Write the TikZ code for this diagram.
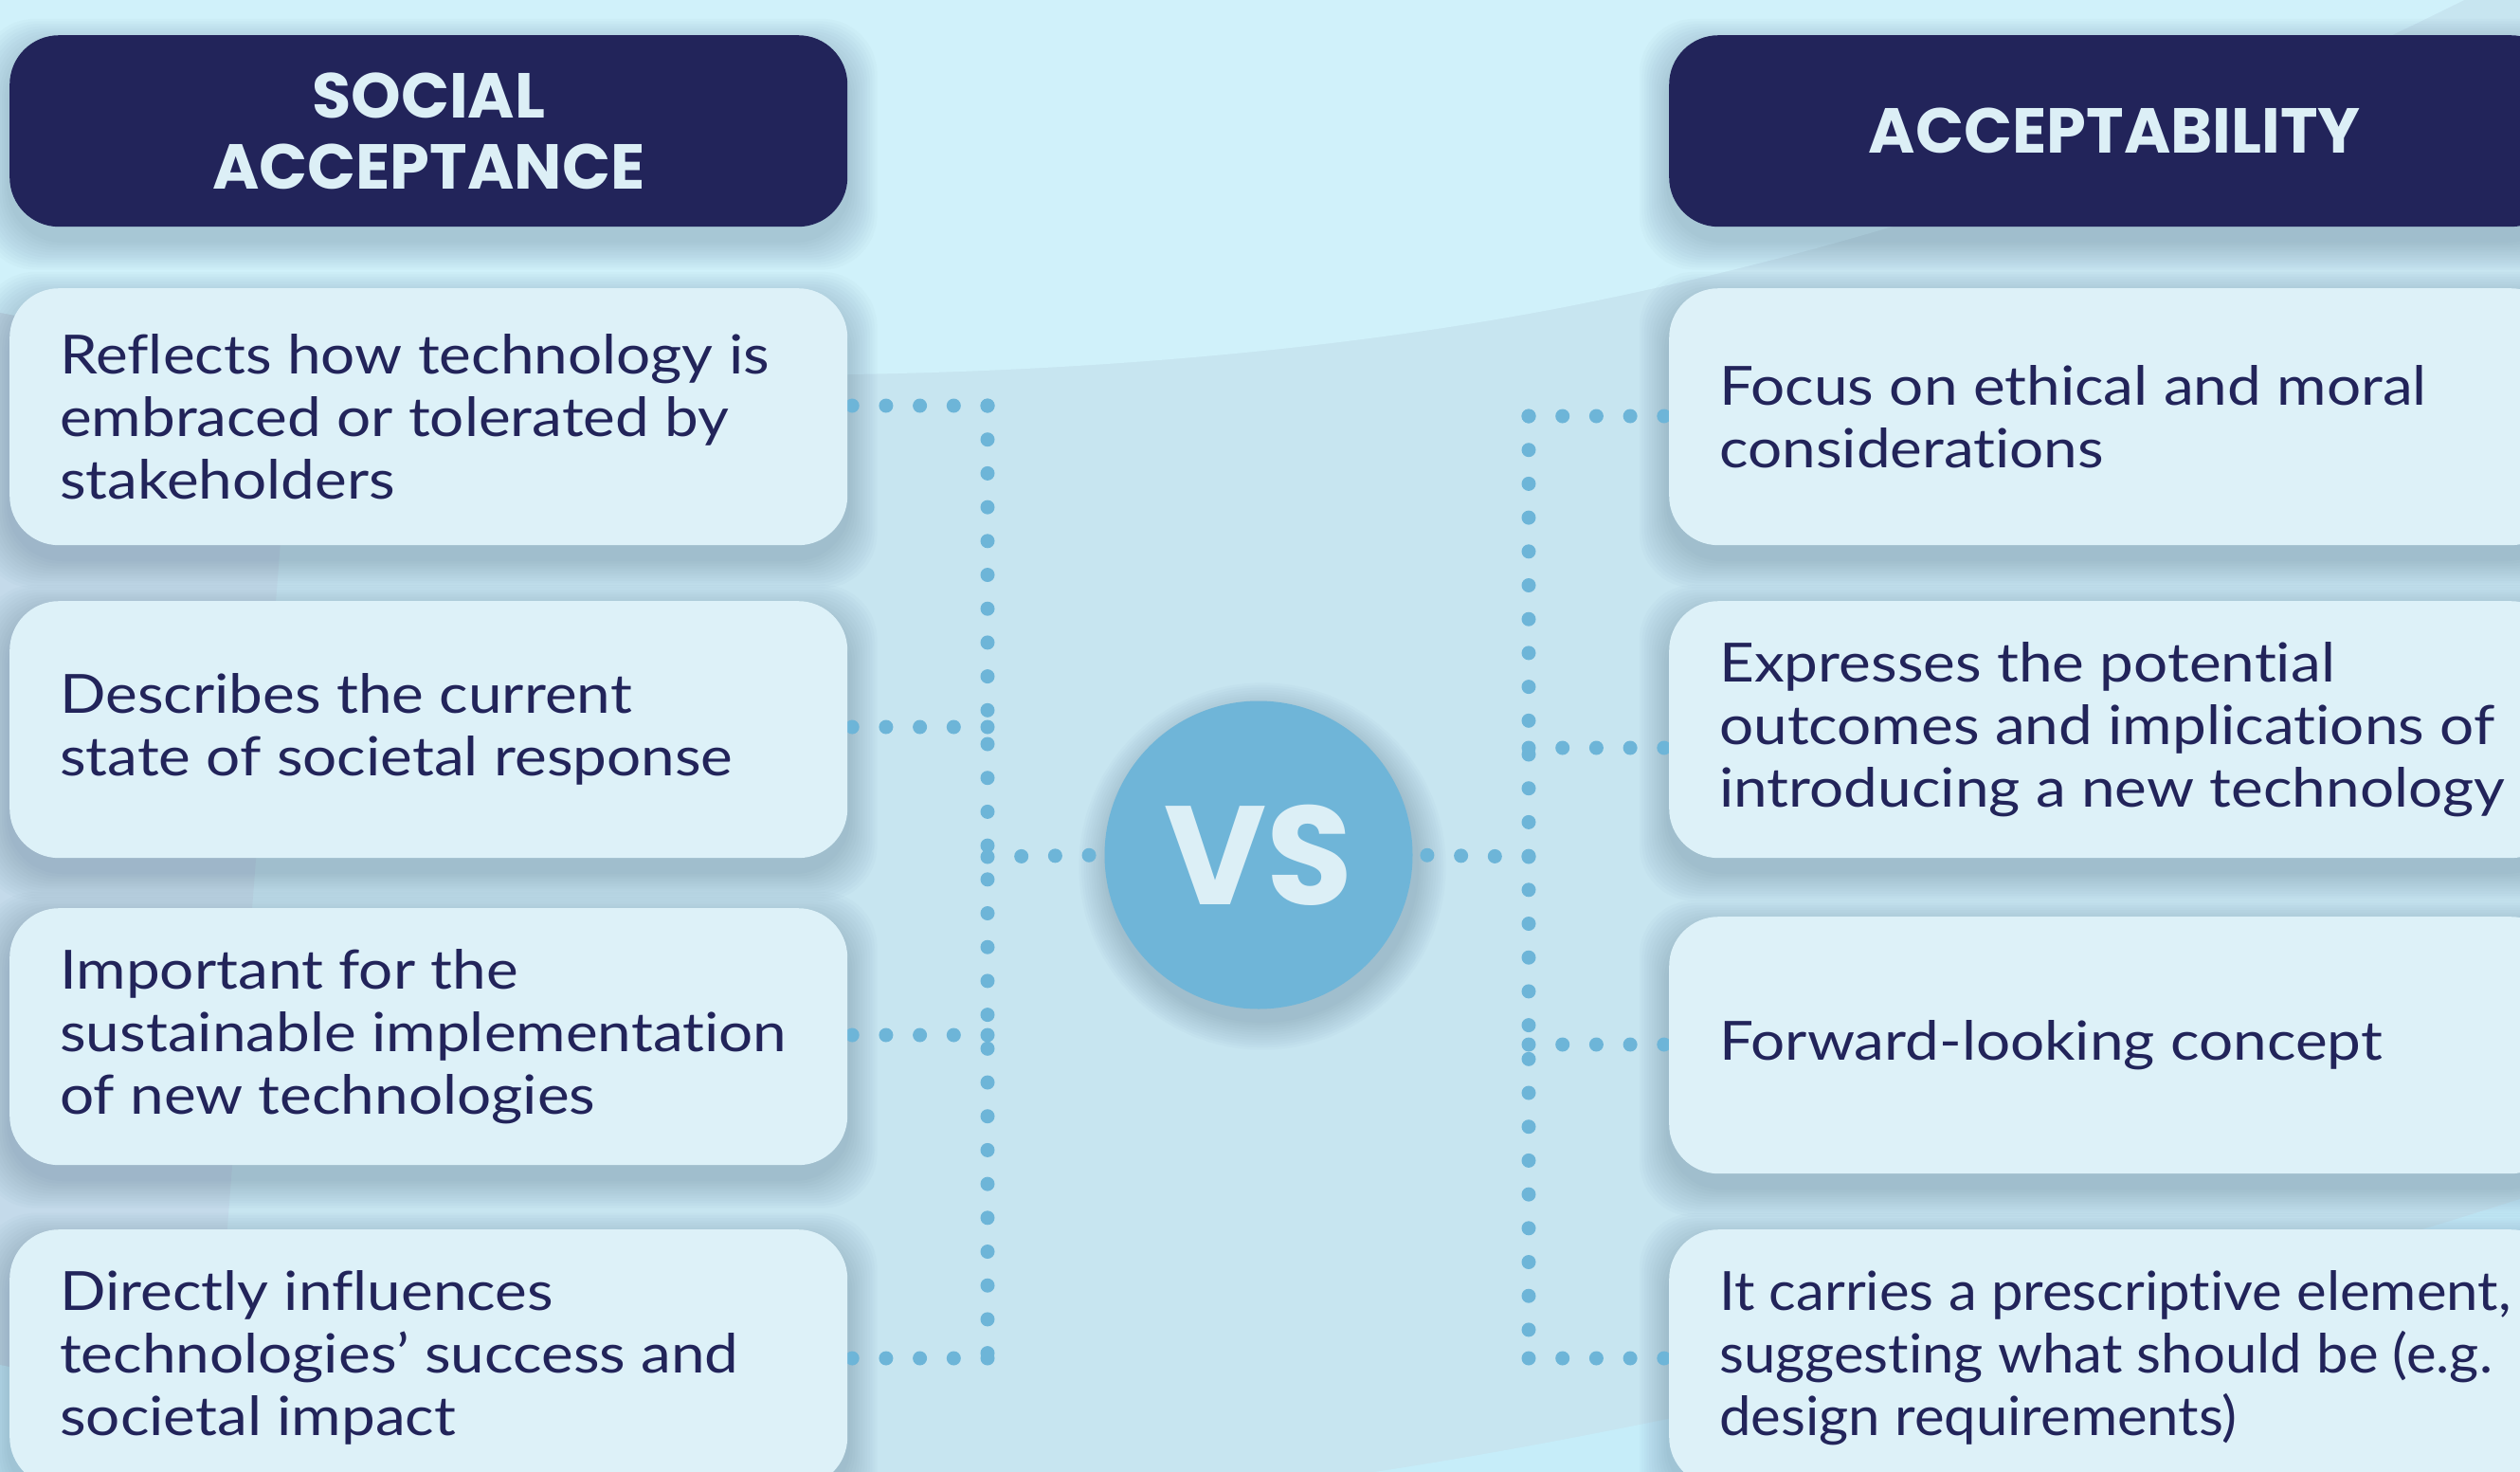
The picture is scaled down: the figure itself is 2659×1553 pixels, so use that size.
\documentclass[tikz,border=0pt]{standalone}
\usepackage{fontspec}
\setmainfont[FakeStretch=1.12, Ligatures=NoCommon]{Lato}
\newfontfamily\tightfont[FakeStretch=1.05, Ligatures=NoCommon]{Lato}
\newfontfamily\headfont{Poppins}
\definecolor{bgbase}{HTML}{C7E5F0}
\definecolor{bglight}{HTML}{D0F1FA}
\definecolor{bggrey}{HTML}{C4DAEA}
\definecolor{bgcorner}{HTML}{C6EDF9}
\definecolor{navy}{HTML}{22245A}
\definecolor{boxfill}{HTML}{DDF1F8}
\definecolor{headtext}{HTML}{DCEFF6}
\definecolor{dotblue}{HTML}{6DB5D8}
\definecolor{vsblue}{HTML}{6FB5D8}
\definecolor{shadowc}{HTML}{3F5C7A}
\pgfdeclarelayer{back}
\pgfdeclarelayer{shade}
\pgfdeclarelayer{lines}
\pgfsetlayers{back,shade,lines,main}
\newcommand\boxshadow[1]{%
  \foreach \k in {1,...,12}{%
    \fill[shadowc, opacity=0.024, rounded corners=58pt]
      ([xshift=-\k*2.6pt, yshift=\k*2.6pt-14pt]#1.north west) rectangle
      ([xshift=\k*2.6pt, yshift=-\k*2.6pt-14pt]#1.south east);}}
\newcommand\circshadow[1]{%
  \foreach \k in {1,...,12}{%
    \fill[shadowc, opacity=0.024] ([xshift=4pt, yshift=-12pt]#1.center) circle[radius=162.5pt+\k*2.6pt];}}
\tikzset{
  headbox/.style={fill=navy, rounded corners=52pt, minimum height=202pt, inner sep=0pt,
    text=headtext, align=center, font=\headfont\bfseries\fontsize{67}{75}\selectfont},
  bodybox/.style={fill=boxfill, rounded corners=52pt, minimum height=271pt, inner sep=0pt},
  bodytext/.style={text=navy, align=left, inner sep=0pt, font=\fontsize{57}{66}\selectfont},
  dotline/.style={draw=dotblue, line width=15pt, line cap=round, dash pattern=on 0pt off 35.7pt},
}
\begin{document}
\begin{tikzpicture}[x=1pt,y=-1pt]
\useasboundingbox (0,0) rectangle (2659,1553);

% headers
\node[headbox, minimum width=884pt, anchor=north west] (lh) at (10,37) {SOCIAL\\ACCEPTANCE};
\node[headbox, minimum width=940pt, anchor=north west] (rh) at (1761,37) {ACCEPTABILITY};

% left boxes
\node[bodybox, minimum width=884pt, anchor=north west] (lb1) at (10,304) {};
\node[bodybox, minimum width=884pt, anchor=north west] (lb2) at (10,634) {};
\node[bodybox, minimum width=884pt, anchor=north west] (lb3) at (10,958) {};
\node[bodybox, minimum width=884pt, anchor=north west] (lb4) at (10,1297) {};
% right boxes
\node[bodybox, minimum width=940pt, anchor=north west] (rb1) at (1761,304) {};
\node[bodybox, minimum width=940pt, anchor=north west] (rb2) at (1761,634) {};
\node[bodybox, minimum width=940pt, anchor=north west] (rb3) at (1761,967) {};
\node[bodybox, minimum width=940pt, anchor=north west] (rb4) at (1761,1297) {};

% texts
\node[bodytext, anchor=west] (lt1) at ([xshift=53pt]lb1.west) {Reflects how technology is\\embraced or tolerated by\\stakeholders};
\node[bodytext, anchor=west] (lt2) at ([xshift=53pt]lb2.west) {Describes the current\\state of societal response};
\node[bodytext, anchor=west] (lt3) at ([xshift=53pt]lb3.west) {Important for the\\sustainable implementation\\of new technologies};
\node[bodytext, anchor=west] (lt4) at ([xshift=53pt]lb4.west) {Directly influences\\technologies’ success and\\societal impact};
\node[bodytext, anchor=west] (rt1) at ([xshift=53pt]rb1.west) {Focus on ethical and moral\\considerations};
\node[bodytext, anchor=west] (rt2) at ([xshift=53pt]rb2.west) {Expresses the potential\\outcomes and implications of\\introducing a new technology};
\node[bodytext, anchor=west] (rt3) at ([xshift=53pt]rb3.west) {Forward-looking concept};
\node[bodytext, anchor=west, font=\tightfont\fontsize{57}{66}\selectfont] (rt4) at ([xshift=53pt]rb4.west) {It carries a prescriptive element,\\suggesting what should be (e.g.\\design requirements)};

% VS
\node[circle, fill=vsblue, minimum size=325pt, inner sep=0pt, text=headtext,
  font=\headfont\bfseries\fontsize{148}{148}\selectfont] (vs) at (1328,902) {VS};

% joints
\coordinate (L1) at (1042,428);
\coordinate (L2) at (1042,767);
\coordinate (L3) at (1042,1092);
\coordinate (L4) at (1042,1433);
\coordinate (Lm) at (1042,904);
\coordinate (R1) at (1613,439);
\coordinate (R2) at (1613,789);
\coordinate (R3) at (1613,1102);
\coordinate (R4) at (1613,1433);
\coordinate (Rm) at (1613,904);

\begin{pgfonlayer}{back}
\fill[bgbase] (0,0) rectangle (2659,1553);
\fill[bglight] (0,0) -- (0,330) .. controls (500,420) and (1200,420) .. (1700,314) .. controls (2100,230) and (2400,100) .. (2600,0) -- cycle;
\fill[bggrey] (0,330) .. controls (150,360) and (250,380) .. (310,390) -- (220,1553) -- (0,1553) -- cycle;
\fill[bgcorner] (0,1440) .. controls (100,1460) and (180,1480) .. (220,1490) -- (220,1553) -- (0,1553) -- cycle;
\fill[bgcorner] (1450,1553) .. controls (1800,1500) and (2300,1380) .. (2659,1265) -- (2659,1553) -- cycle;
\end{pgfonlayer}

\begin{pgfonlayer}{shade}
\boxshadow{lh}\boxshadow{rh}
\boxshadow{lb1}\boxshadow{lb2}\boxshadow{lb3}\boxshadow{lb4}
\boxshadow{rb1}\boxshadow{rb2}\boxshadow{rb3}\boxshadow{rb4}
\circshadow{vs}
\end{pgfonlayer}

\begin{pgfonlayer}{lines}
\draw[dotline] (L1) -- (L1 -| lb1.east);
\draw[dotline] (L2) -- (L2 -| lb2.east);
\draw[dotline] (L3) -- (L3 -| lb3.east);
\draw[dotline] (L4) -- (L4 -| lb4.east);
\draw[dotline] (L1) -- (L4);
\draw[dotline] (Lm) -- (vs.west);
\draw[dotline] (R1) -- (R1 -| rb1.west);
\draw[dotline] (R2) -- (R2 -| rb2.west);
\draw[dotline] (R3) -- (R3 -| rb3.west);
\draw[dotline] (R4) -- (R4 -| rb4.west);
\draw[dotline] (R1) -- (R4);
\draw[dotline] (Rm) -- (vs.east);
\end{pgfonlayer}
\end{tikzpicture}
\end{document}
